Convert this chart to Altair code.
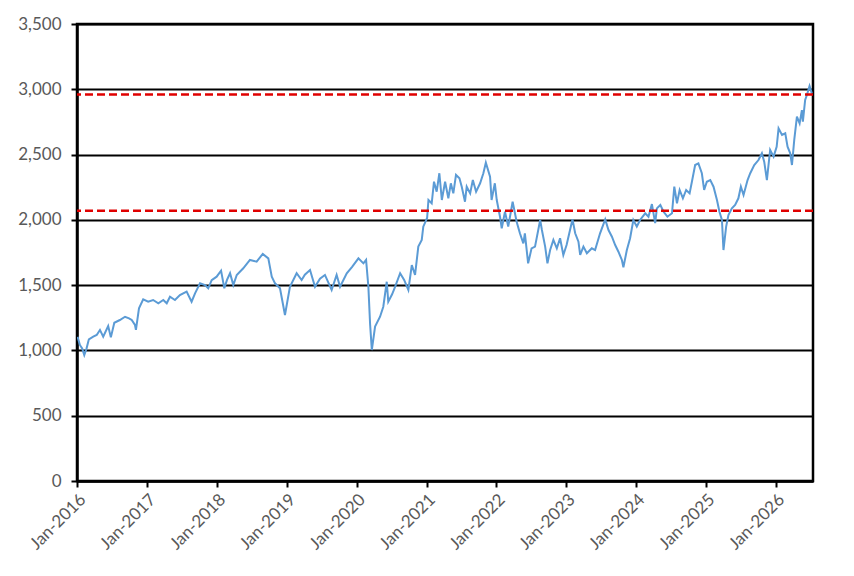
import altair as alt
import pandas as pd

dates = [
    # 2016
    "2016-01-04", "2016-01-16", "2016-01-28", "2016-02-08", "2016-02-20", "2016-03-03",
    "2016-03-26", "2016-04-13", "2016-04-30", "2016-05-17", "2016-06-12", "2016-06-26",
    "2016-07-14", "2016-08-12", "2016-09-08", "2016-09-29", "2016-10-13", "2016-10-30",
    "2016-11-04", "2016-11-20", "2016-12-12",
    # 2017
    "2017-01-07", "2017-02-02", "2017-03-01", "2017-03-27", "2017-04-14", "2017-05-01",
    "2017-05-27", "2017-06-22", "2017-07-27", "2017-08-22", "2017-09-09", "2017-10-05",
    "2017-10-31", "2017-11-17", "2017-12-05", "2017-12-31",
    # 2018
    "2018-01-23", "2018-02-09", "2018-02-23", "2018-03-11", "2018-03-28", "2018-04-15",
    "2018-05-19", "2018-06-23", "2018-07-28", "2018-08-29", "2018-09-27", "2018-10-15",
    "2018-11-01", "2018-11-27", "2018-12-23",
    # 2019
    "2019-01-18", "2019-02-22", "2019-03-20", "2019-04-06", "2019-05-03", "2019-05-29",
    "2019-06-24", "2019-07-20", "2019-08-24", "2019-09-19", "2019-10-07", "2019-11-11",
    "2019-12-09",
    # 2020
    "2020-01-11", "2020-02-06", "2020-02-20", "2020-03-03", "2020-03-12", "2020-03-21",
    "2020-04-07", "2020-05-03", "2020-05-20", "2020-06-07", "2020-06-15", "2020-07-05",
    "2020-07-21", "2020-08-16", "2020-09-06", "2020-09-28", "2020-10-16", "2020-11-02",
    "2020-11-19", "2020-12-07", "2020-12-15",
    # 2021
    "2021-01-04", "2021-01-11", "2021-01-28", "2021-02-09", "2021-02-23", "2021-03-09",
    "2021-03-22", "2021-04-08", "2021-04-25", "2021-05-08", "2021-05-21", "2021-06-04",
    "2021-06-22", "2021-07-04", "2021-07-21", "2021-07-30", "2021-08-17", "2021-08-31",
    "2021-09-17", "2021-10-08", "2021-10-25", "2021-11-07", "2021-11-29", "2021-12-07",
    "2021-12-24",
    # 2022
    "2022-01-03", "2022-01-20", "2022-01-29", "2022-02-15", "2022-03-04", "2022-03-27",
    "2022-04-17", "2022-05-04", "2022-05-22", "2022-05-30", "2022-06-16", "2022-07-04",
    "2022-07-22", "2022-08-18", "2022-08-27", "2022-09-13", "2022-09-25", "2022-10-09",
    "2022-10-26", "2022-11-13", "2022-11-30", "2022-12-17",
    # 2023
    "2023-01-03", "2023-01-21", "2023-02-03", "2023-02-17", "2023-03-06", "2023-03-15",
    "2023-04-01", "2023-04-19", "2023-05-15", "2023-06-01", "2023-06-27", "2023-07-24",
    "2023-08-10", "2023-08-28", "2023-09-14", "2023-10-01", "2023-10-19", "2023-10-27",
    "2023-11-14", "2023-12-01", "2023-12-18",
    # 2024
    "2024-01-05", "2024-01-22", "2024-02-18", "2024-03-06", "2024-03-24", "2024-04-10",
    "2024-04-19", "2024-05-07", "2024-05-24", "2024-06-13", "2024-07-07", "2024-07-19",
    "2024-08-02", "2024-08-16", "2024-09-02", "2024-09-19", "2024-10-07", "2024-10-19",
    "2024-11-05", "2024-11-22", "2024-12-10", "2024-12-22",
    # 2025
    "2025-01-05", "2025-01-23", "2025-02-09", "2025-02-27", "2025-03-12", "2025-03-25",
    "2025-04-02", "2025-04-16", "2025-04-28", "2025-05-16", "2025-06-02", "2025-06-19",
    "2025-07-02", "2025-07-16", "2025-08-06", "2025-08-20", "2025-09-10", "2025-10-02",
    "2025-10-20", "2025-11-01", "2025-11-15", "2025-12-02", "2025-12-20",
    # 2026
    "2026-01-05", "2026-01-15", "2026-02-02", "2026-02-19", "2026-03-03", "2026-03-17",
    "2026-03-26", "2026-04-07", "2026-04-21", "2026-05-05", "2026-05-17", "2026-05-22",
    "2026-06-03", "2026-06-12", "2026-06-26", "2026-07-08",
]

values = [
    # 2016
    1105, 1042, 1016, 965, 1016, 1085,
    1105, 1118, 1157, 1105, 1187, 1100,
    1212, 1233, 1258, 1246, 1233, 1195,
    1157, 1322, 1391,
    # 2017
    1373, 1386, 1361, 1386, 1361, 1411,
    1386, 1424, 1450, 1373, 1437, 1514,
    1501, 1476, 1539, 1565,
    # 2018
    1611, 1476, 1540, 1591, 1501, 1578,
    1629, 1693, 1680, 1739, 1705, 1565,
    1514, 1476, 1271,
    # 2019
    1488, 1591, 1539, 1580, 1616, 1488,
    1550, 1578, 1463, 1578, 1488, 1591,
    1640,
    # 2020
    1705, 1667, 1693, 1488, 1200, 1003,
    1182, 1258, 1335, 1526, 1373, 1430,
    1488, 1591, 1540, 1463, 1654, 1578,
    1795, 1846, 1948,
    # 2021
    2014, 2152, 2127, 2292, 2216, 2357,
    2152, 2292, 2165, 2280, 2203, 2344,
    2318, 2254, 2139, 2254, 2203, 2305,
    2216, 2280, 2357, 2438, 2331, 2152,
    2280,
    # 2022
    2152, 2024, 1935, 2062, 1948, 2139,
    1986, 1897, 1820, 1897, 1667, 1782,
    1795, 1999, 1922, 1795, 1667, 1769,
    1846, 1782, 1859, 1731,
    # 2023
    1807, 1922, 2004, 1897, 1833, 1731,
    1795, 1744, 1782, 1769, 1897, 2004,
    1922, 1871, 1807, 1756, 1693, 1637,
    1769, 1859, 1999,
    # 2024
    1948, 1999, 2050, 2024, 2121, 1975,
    2088, 2114, 2062, 2024, 2050, 2254,
    2127, 2229, 2165, 2229, 2203, 2292,
    2420, 2433, 2357, 2229,
    # 2025
    2292, 2305, 2254, 2152, 2062, 1999,
    1769, 1948, 2037, 2088, 2114, 2165,
    2254, 2190, 2305, 2357, 2420, 2458,
    2510, 2446, 2305, 2535, 2484,
    # 2026
    2560, 2701, 2650, 2663, 2560, 2510,
    2420, 2612, 2790, 2739, 2841, 2752,
    2918, 2956, 3025, 2969,
]

ref_levels = [2960, 2070]

n = min(len(dates), len(values))
df = pd.DataFrame({"date": pd.to_datetime(dates[:n]), "value": values[:n]})
ref = pd.DataFrame({"level": ref_levels})

FONT = "Lato"
x_dom = ["2016-01-01", "2026-07-14"]

line = alt.Chart(df).mark_line(color="#5B9BD5", strokeWidth=2, clip=True).encode(
    x=alt.X(
        "date:T",
        title=None,
        scale=alt.Scale(domain=x_dom, nice=False),
        axis=alt.Axis(
            format="%b-%Y",
            labelAngle=-45,
            tickCount={"interval": "year", "step": 1},
            grid=False,
            domainColor="black",
            domainWidth=2.5,
            tickColor="black",
            tickWidth=2,
            tickSize=6,
            labelFont=FONT,
            labelFontSize=17,
            labelColor="#595959",
            labelPadding=4,
        ),
    ),
    y=alt.Y(
        "value:Q",
        title=None,
        scale=alt.Scale(domain=[0, 3500], nice=False),
        axis=alt.Axis(
            values=[0, 500, 1000, 1500, 2000, 2500, 3000, 3500],
            format=",.0f",
            grid=True,
            gridColor="black",
            gridWidth=1.8,
            domainColor="black",
            domainWidth=2.5,
            tickColor="black",
            tickWidth=2,
            tickSize=6,
            labelFont=FONT,
            labelFontSize=17,
            labelColor="#595959",
            labelPadding=10,
        ),
    ),
)

rules = alt.Chart(ref).mark_rule(color="#E00000", strokeWidth=2.6, strokeDash=[8, 4]).encode(
    y=alt.Y("level:Q"),
)

chart = (
    alt.layer(line, rules)
    .properties(
        width=736,
        height=457,
        autosize=alt.AutoSizeParams(type="none"),
        padding={"left": 69, "top": 16, "right": 30, "bottom": 80},
    )
    .configure_view(stroke="black", strokeWidth=2.5)
)

chart.save("out.html", embed_options={"renderer": "svg", "actions": False})
